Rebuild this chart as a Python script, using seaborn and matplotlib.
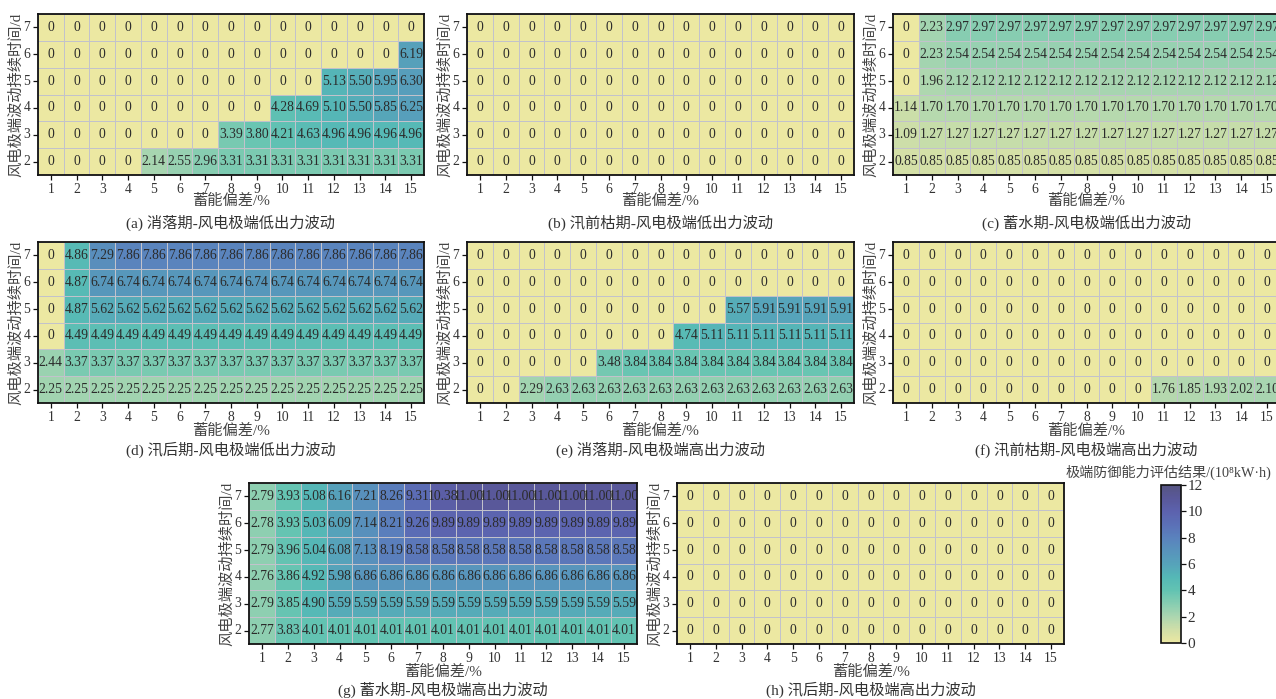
import numpy as np
import pandas as pd
import matplotlib
matplotlib.use("Agg")
import matplotlib.pyplot as plt
from matplotlib.colors import LinearSegmentedColormap
import seaborn as sns

sns.set_theme(style="white")
plt.rcParams["font.family"] = ["Liberation Serif", "Noto Sans CJK SC", "DejaVu Sans"]

# Storage deviation (%) along x, fluctuation duration (d) along y
deviation = list(range(1, 16))
durations = [7, 6, 5, 4, 3, 2]  # top row first

Z = [0] * 15

a_rows = [
    Z,
    [0] * 14 + [6.19],
    [0] * 11 + [5.13, 5.50, 5.95, 6.30],
    [0] * 9 + [4.28, 4.69, 5.10, 5.50, 5.85, 6.25],
    [0] * 7 + [3.39, 3.80, 4.21, 4.63, 4.96, 4.96, 4.96, 4.96],
    [0] * 4 + [2.14, 2.55, 2.96] + [3.31] * 8,
]
b_rows = [Z, Z, Z, Z, Z, Z]
c_rows = [
    [0, 2.23] + [2.97] * 13,
    [0, 2.23] + [2.54] * 13,
    [0, 1.96] + [2.12] * 13,
    [1.14] + [1.70] * 14,
    [1.09] + [1.27] * 14,
    [0.85] * 15,
]
d_rows = [
    [0, 4.86, 7.29] + [7.86] * 12,
    [0, 4.87] + [6.74] * 13,
    [0, 4.87] + [5.62] * 13,
    [0] + [4.49] * 14,
    [2.44] + [3.37] * 14,
    [2.25] * 15,
]
e_rows = [
    Z,
    Z,
    [0] * 10 + [5.57] + [5.91] * 4,
    [0] * 8 + [4.74] + [5.11] * 6,
    [0] * 5 + [3.48] + [3.84] * 9,
    [0, 0, 2.29] + [2.63] * 12,
]
f_rows = [Z, Z, Z, Z, Z, [0] * 10 + [1.76, 1.85, 1.93, 2.02, 2.10]]
g_rows = [
    [2.79, 3.93, 5.08, 6.16, 7.21, 8.26, 9.31, 10.38] + [11.00] * 7,
    [2.78, 3.93, 5.03, 6.09, 7.14, 8.21, 9.26] + [9.89] * 8,
    [2.79, 3.96, 5.04, 6.08, 7.13, 8.19] + [8.58] * 9,
    [2.76, 3.86, 4.92, 5.98] + [6.86] * 11,
    [2.79, 3.85, 4.90] + [5.59] * 12,
    [2.77, 3.83] + [4.01] * 13,
]
h_rows = [Z, Z, Z, Z, Z, Z]

captions = [
    "(a) 消落期-风电极端低出力波动",
    "(b) 汛前枯期-风电极端低出力波动",
    "(c) 蓄水期-风电极端低出力波动",
    "(d) 汛后期-风电极端低出力波动",
    "(e) 消落期-风电极端高出力波动",
    "(f) 汛前枯期-风电极端高出力波动",
    "(g) 蓄水期-风电极端高出力波动",
    "(h) 汛后期-风电极端高出力波动",
]
panels = [a_rows, b_rows, c_rows, d_rows, e_rows, f_rows, g_rows, h_rows]

cmap = LinearSegmentedColormap.from_list(
    "defense",
    [
        (0 / 12, "#ECE8A2"),
        (1 / 12, "#D0DFA8"),
        (2 / 12, "#ABD6B0"),
        (3 / 12, "#86CDB1"),
        (4 / 12, "#62C3B2"),
        (5 / 12, "#55B8B6"),
        (6 / 12, "#56A3BA"),
        (7 / 12, "#5893BC"),
        (8 / 12, "#5A82BD"),
        (9 / 12, "#5B70B7"),
        (10 / 12, "#5C62AE"),
        (11 / 12, "#59589A"),
        (12 / 12, "#565582"),
    ],
)

W, H = 1276, 699
fig = plt.figure(figsize=(W / 100, H / 100), dpi=100)


def px_rect(left, top, right, bottom):
    return [left / W, 1 - bottom / H, (right - left) / W, (bottom - top) / H]


# axes boxes in pixel units: (left, top, right, bottom)
boxes = [
    (38, 14, 424, 175), (467, 14, 854, 175), (893, 14, 1280, 175),
    (38, 242, 424, 403), (467, 242, 854, 403), (893, 242, 1280, 403),
    (249, 483, 637, 644), (677, 483, 1064, 644),
]
xlabel_y = [201, 201, 201, 431, 431, 431, 672, 672]
caption_y = [223, 223, 223, 450, 450, 450, 690, 690]

text_color = "#2B2B2B"
for rows, box, cap, xly, cy in zip(panels, boxes, captions, xlabel_y, caption_y):
    ax = fig.add_axes(px_rect(*box))
    df = pd.DataFrame(rows, index=durations, columns=deviation)
    labels = df.map(lambda v: "0" if v == 0 else f"{v:.2f}")
    sns.heatmap(
        df, ax=ax, cmap=cmap, vmin=0, vmax=12, cbar=False,
        annot=labels.values, fmt="",
        annot_kws={"fontsize": 9.8, "color": text_color},
        linewidths=0.6, linecolor="#C2C2CB",
    )
    for s in ax.spines.values():
        s.set_visible(True)
        s.set_color("#111111")
        s.set_linewidth(1.3)
    ax.set_xticklabels(deviation, rotation=0)
    ax.set_yticklabels(durations, rotation=0)
    ax.tick_params(axis="both", which="major", direction="out", length=3.5,
                   width=0.9, colors="#111111", labelsize=9.8, pad=2,
                   bottom=True, left=True, labelcolor="#333333")
    ax.set_xlabel("")
    ax.set_ylabel("风电极端波动持续时间/d", fontsize=11, color="#444444", labelpad=0)
    cx = (box[0] + box[2]) / 2
    if box[2] > W:
        cx = (box[0] + box[0] + 387) / 2
    fig.text(cx / W, 1 - xly / H, "蓄能偏差/%", ha="center", va="center",
             fontsize=11, color="#444444")
    fig.text(cx / W, 1 - cy / H, cap, ha="center", va="center",
             fontsize=11, color="#333333")

# shared colour bar
cax = fig.add_axes(px_rect(1161, 485, 1181, 643))
sm = plt.cm.ScalarMappable(cmap=cmap, norm=plt.Normalize(0, 12))
cb = fig.colorbar(sm, cax=cax, ticks=np.arange(0, 13, 2))
cb.outline.set_edgecolor("#111111")
cb.outline.set_linewidth(1.2)
cax.tick_params(direction="out", length=3.5, width=0.9, labelsize=11, pad=1,
                colors="#111111", labelcolor="#333333")
fig.text(1168 / W, 1 - 472 / H, "极端防御能力评估结果/(10⁸kW·h)", ha="center",
         va="center", fontsize=10.2, color="#444444")

fig.savefig("out.png", dpi=100)
